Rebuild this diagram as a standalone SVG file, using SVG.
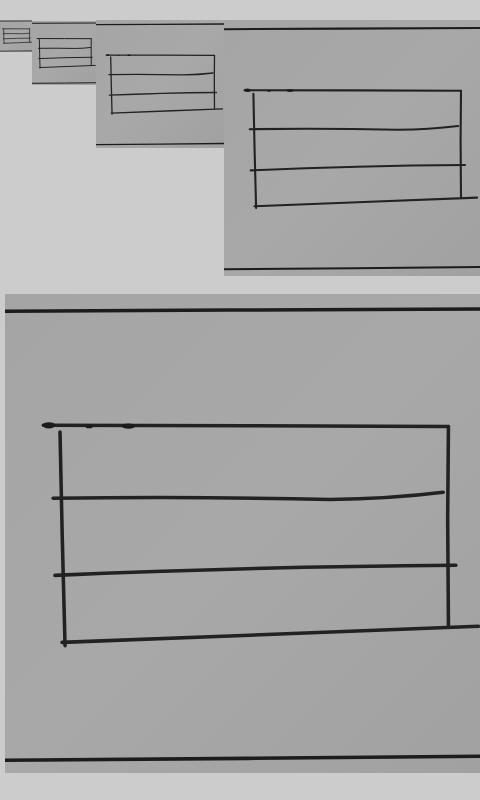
<svg xmlns="http://www.w3.org/2000/svg" xmlns:xlink="http://www.w3.org/1999/xlink" width="480" height="800" viewBox="0 0 480 800">
  <style>
    .ink { fill: none; stroke: #222222; stroke-linecap: round; stroke-linejoin: round; }
    .edge { fill: none; stroke: #1c1c1c; }
    .blob { fill: #1c1c1c; }
  </style>
  <defs>
    <linearGradient id="paper" x1="0" y1="0" x2="1" y2="1">
      <stop offset="0" stop-color="#a5a5a5"/>
      <stop offset="0.5" stop-color="#a8a8a8"/>
      <stop offset="1" stop-color="#a1a1a1"/>
    </linearGradient>
    <g id="photo">
      <rect x="0" y="0" width="256" height="256" fill="url(#paper)" stroke="none"/>
      <path class="edge" d="M0,9.2 L120,8.6 L256,8.0"/>
      <path class="edge" d="M0,249.2 L130,248.2 L256,247.0"/>
      <path class="ink" d="M20.5,70.2 L130,70.4 L237,70.8"/>
      <ellipse class="blob" cx="23.5" cy="70.2" rx="3.4" ry="1.7"/>
      <ellipse class="blob" cx="45" cy="70.8" rx="2" ry="1"/>
      <ellipse class="blob" cx="66" cy="70.6" rx="3.6" ry="1.4"/>
      <path class="ink" d="M29.4,73.8 L30.6,130 L32.1,188"/>
      <path class="ink" d="M237,70.8 L236.6,120 L237,177.2"/>
      <path class="ink" d="M25.7,109.2 Q100,108.2 173.8,109.8 Q205,109.6 234.2,106"/>
      <path class="ink" d="M26.7,150.4 Q130,145.8 241,145"/>
      <path class="ink" d="M30.5,186.2 L140,182 L253,177.6"/>
    </g>
  </defs>
  <rect id="background" x="0" y="0" width="480" height="800" fill="#cccccc"/>
  <g id="panel-1"><use xlink:href="#photo" stroke-width="6" transform="translate(0,20) scale(0.125)"/></g>
  <g id="panel-2"><use xlink:href="#photo" stroke-width="4" transform="translate(32,21) scale(0.25)"/></g>
  <g id="panel-3"><use xlink:href="#photo" stroke-width="2.6" transform="translate(96,20) scale(0.5)"/></g>
  <g id="panel-4"><use xlink:href="#photo" stroke-width="2.1" transform="translate(224,20) scale(1)"/></g>
  <g id="panel-5"><use xlink:href="#photo" stroke-width="1.9" transform="translate(5,294) scale(1.871)"/></g>
  <g id="connectors"/>
</svg>
